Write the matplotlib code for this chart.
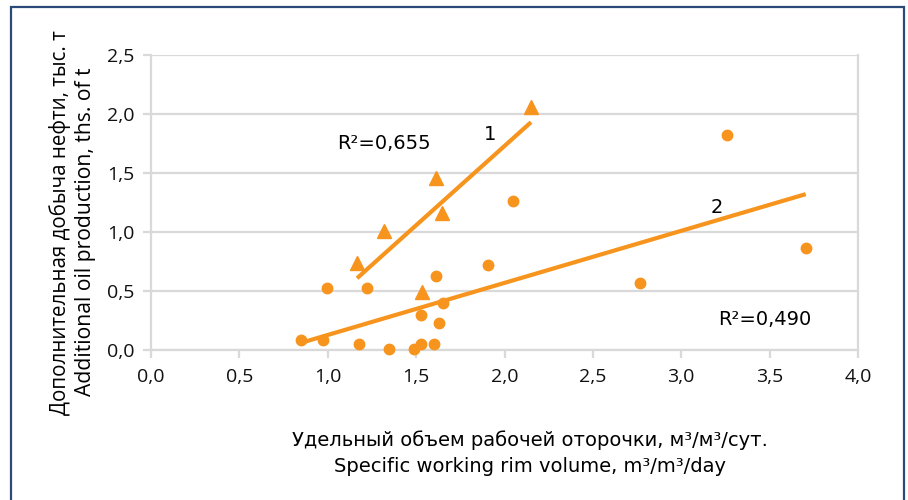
import numpy as np
import matplotlib
matplotlib.use("Agg")
import matplotlib.pyplot as plt
from matplotlib.patches import Rectangle
from matplotlib.ticker import FuncFormatter, MultipleLocator

### DATA
# series 1 (triangles)
x1 = [2.15, 1.61, 1.645, 1.32, 1.166, 1.535]
y1 = [2.06, 1.46, 1.16, 1.01, 0.735, 0.49]
# series 2 (circles)
x2 = [0.851, 0.974, 0.993, 1.222, 1.175, 1.345, 1.49, 1.529, 1.60,
      1.529, 1.627, 1.652, 1.614, 1.905, 2.048, 3.261, 3.704, 2.766]
y2 = [0.085, 0.085, 0.523, 0.523, 0.048, 0.006, 0.006, 0.048, 0.048,
      0.297, 0.226, 0.40, 0.627, 0.72, 1.265, 1.822, 0.862, 0.565]
r2_1 = "0,655"
r2_2 = "0,490"
xlabel_ru = "Удельный объем рабочей оторочки, м³/м³/сут."
xlabel_en = "Specific working rim volume, m³/m³/day"
ylabel_ru = "Дополнительная добыча нефти, тыс. т"
ylabel_en = "Additional oil production, ths. of t"

orange = "#f7941d"
grey = "#d9d9d9"
tick_font = "Open Sans"
text_font = ["Liberation Sans Narrow", "DejaVu Sans"]

fig = plt.figure(figsize=(9.08, 5.0), dpi=100)
ax = fig.add_axes([151 / 908, 0.30, 707 / 908, 0.59])

# outer frame
fig.patches.append(Rectangle((11 / 908, -0.02), 893 / 908, 1.006, transform=fig.transFigure,
                             fill=False, edgecolor="#2b4a78", linewidth=1.6))

# points
ax.plot(x2, y2, "o", color=orange, markersize=7.5, clip_on=False, zorder=3)
ax.plot(x1, y1, "^", color=orange, markersize=10, clip_on=False, zorder=3)

# linear trend lines
for xs, ys in ((x1, y1), (x2, y2)):
    k, b = np.polyfit(xs, ys, 1)
    xx = np.array([min(xs), max(xs)])
    ax.plot(xx, k * xx + b, color=orange, linewidth=3, solid_capstyle="butt", zorder=4)

ax.set_xlim(0, 4)
ax.set_ylim(0, 2.5)
ax.xaxis.set_major_locator(MultipleLocator(0.5))
ax.yaxis.set_major_locator(MultipleLocator(0.5))
comma = FuncFormatter(lambda v, p: "{:.1f}".format(v).replace(".", ","))
ax.xaxis.set_major_formatter(comma)
ax.yaxis.set_major_formatter(comma)

ax.grid(axis="y", color=grey, linewidth=1.6)
ax.set_axisbelow(True)
for s in ("left", "bottom", "right"):
    ax.spines[s].set_color(grey)
    ax.spines[s].set_linewidth(1.6)
ax.spines["top"].set_visible(False)
ax.tick_params(direction="out", length=6, width=1.6, color=grey,
               labelsize=14, labelcolor="#111111")
ax.tick_params(axis="x", pad=7)
ax.tick_params(axis="y", pad=6)
for lab in ax.get_xticklabels() + ax.get_yticklabels():
    lab.set_family(tick_font)

# annotations
ax.text(1.32, 1.75, "R²=" + r2_1, fontsize=14, family=text_font, ha="center", va="center")
ax.text(1.92, 1.83, "1", fontsize=14, family=text_font, ha="center", va="center")
ax.text(3.2, 1.21, "2", fontsize=14, family=text_font, ha="center", va="center")
ax.text(3.47, 0.26, "R²=" + r2_2, fontsize=14, family=text_font, ha="center", va="center")

# axis titles
fig.text(530 / 908, 1 - 440 / 500, xlabel_ru, fontsize=14, family=text_font,
         ha="center", va="center")
fig.text(530 / 908, 1 - 467 / 500, xlabel_en, fontsize=14, family=text_font,
         ha="center", va="center")
fig.text(60 / 908, 1 - 223 / 500, ylabel_ru, fontsize=14.8, family=tick_font,
         rotation=90, ha="center", va="center")
fig.text(86 / 908, 1 - 232 / 500, ylabel_en, fontsize=15.2, family=tick_font,
         rotation=90, ha="center", va="center")

fig.savefig("out.png", dpi=100)
